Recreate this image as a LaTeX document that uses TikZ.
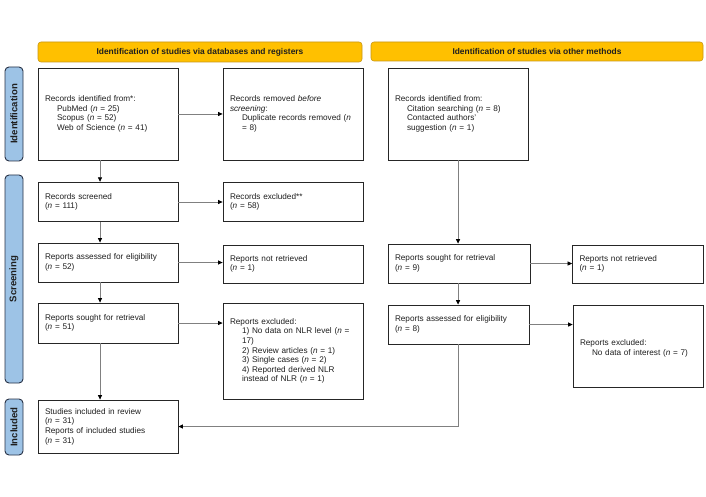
\documentclass[tikz,border=0pt]{standalone}
\usepackage{fontspec}
\setmainfont{Liberation Sans}
\usetikzlibrary{arrows.meta,calc}
\definecolor{hdrfill}{RGB}{255,192,0}
\definecolor{hdrdraw}{RGB}{200,150,20}
\definecolor{tabfill}{RGB}{157,195,230}
\definecolor{tabdraw}{RGB}{40,50,70}
\begin{document}
\begin{tikzpicture}[x=1pt,y=-1pt,
  every node/.style={font=\fontsize{8.2}{9.6}\selectfont, text=black!88},
  box/.style={draw=black!85, line width=0.9pt, fill=white, inner xsep=7pt, inner ysep=0pt, align=left, anchor=center},
  hdr/.style={draw=hdrdraw, fill=hdrfill, rounded corners=3pt, line width=0.6pt, font=\fontsize{8.4}{9}\selectfont\bfseries},
  tab/.style={draw=tabdraw, fill=tabfill, rounded corners=4pt, line width=0.9pt, font=\fontsize{9.6}{10}\selectfont\bfseries, rotate=90},
  conn/.style={draw=black!50, line width=0.8pt},
  arr/.style={conn, -{Triangle[length=4.5pt,width=4.2pt,color=black]}}
]
\fill[white] (0,0) rectangle (706,497);
\useasboundingbox (0,0) rectangle (706,497);
\newcommand{\ind}{\hspace*{12pt}}
% headers
\node[hdr, minimum width=324pt, minimum height=20pt] (h1) at (200,52) {Identification of studies via databases and registers};
\node[hdr, minimum width=332pt, minimum height=19pt] (h2) at (537,51.5) {Identification of studies via other methods};
% tabs
\node[tab, minimum width=94pt, minimum height=18pt] (t1) at (14,114) {Identification};
\node[tab, minimum width=208pt, minimum height=18pt] (t2) at (14,279) {Screening};
\node[tab, minimum width=56pt, minimum height=18pt] (t3) at (14,427) {Included};
% boxes
\node[box, text width=126pt, minimum height=92pt] (A) at (108,114) {Records identified from*:\\ \ind PubMed (\textit{n} = 25)\\ \ind Scopus (\textit{n} = 52)\\ \ind Web of Science (\textit{n} = 41)};
\node[box, text width=126pt, minimum height=92pt] (B) at (293,114) {Records removed \textit{before}\\ \textit{screening}:\\ \ind Duplicate records removed (\textit{n}\\ \ind = 8)};
\node[box, text width=126pt, minimum height=92pt] (C) at (458,114) {Records identified from:\\ \ind Citation searching (\textit{n} = 8)\\ \ind Contacted authors'\\ \ind suggestion (\textit{n} = 1)};
\node[box, text width=126pt, minimum height=39.5pt] (D) at (108,202) {Records screened\\ (\textit{n} = 111)};
\node[box, text width=126pt, minimum height=39.5pt] (E) at (293,202) {Records excluded**\\ (\textit{n} = 58)};
\node[box, text width=126pt, minimum height=39pt] (F) at (108,262.5) {Reports assessed for eligibility\\ (\textit{n} = 52)};
\node[box, text width=126pt, minimum height=38pt] (G) at (293,264) {Reports not retrieved\\ (\textit{n} = 1)};
\node[box, text width=128pt, minimum height=39pt] (H) at (459,263.5) {Reports sought for retrieval\\ (\textit{n} = 9)};
\node[box, text width=117pt, minimum height=38pt] (I) at (638,264) {Reports not retrieved\\ (\textit{n} = 1)};
\node[box, text width=126pt, minimum height=40pt] (J) at (108,323) {Reports sought for retrieval\\ (\textit{n} = 51)};
\node[box, text width=126pt, minimum height=96pt] (K) at (293,351) {Reports excluded:\\ \ind 1) No data on NLR level (\textit{n} =\\ \ind 17)\\ \ind 2) Review articles (\textit{n} = 1)\\ \ind 3) Single cases (\textit{n} = 2)\\ \ind 4) Reported derived NLR\\ \ind instead of NLR (\textit{n} = 1)};
\node[box, text width=127pt, minimum height=39pt] (L) at (458.5,324.5) {Reports assessed for eligibility\\ (\textit{n} = 8)};
\node[box, text width=116pt, minimum height=82pt] (M) at (638,346.5) {\mbox{}\\[0pt]Reports excluded:\\ \ind No data of interest (\textit{n} = 7)};
\node[box, text width=126pt, minimum height=53pt] (N) at (108,426.5) {Studies included in review\\ (\textit{n} = 31)\\ Reports of included studies\\ (\textit{n} = 31)};
% connectors
\draw[arr] (A.east) -- (B.west);
\draw[arr] ([xshift=-8pt]A.south) -- ([xshift=-8pt]D.north);
\draw[arr] (D.east) -- (E.west);
\draw[arr] ([xshift=-8pt]D.south) -- ([xshift=-8pt]F.north);
\draw[arr] (F.east) -- (F.east -| G.west);
\draw[arr] ([xshift=-8pt]F.south) -- ([xshift=-8pt]J.north);
\draw[arr] (J.east) -- (J.east -| K.west);
\draw[arr] ([xshift=-8pt]J.south) -- ([xshift=-8pt]N.north);
\draw[arr] (C.south) -- (C.south |- H.north);
\draw[arr] (H.east) -- (H.east -| I.west);
\draw[arr] (C.south |- H.south) -- (C.south |- L.north);
\draw[arr] (L.east) -- (L.east -| M.west);
\draw[arr] (C.south |- L.south) -- (C.south |- N.east) -- (N.east);
\end{tikzpicture}
\end{document}
